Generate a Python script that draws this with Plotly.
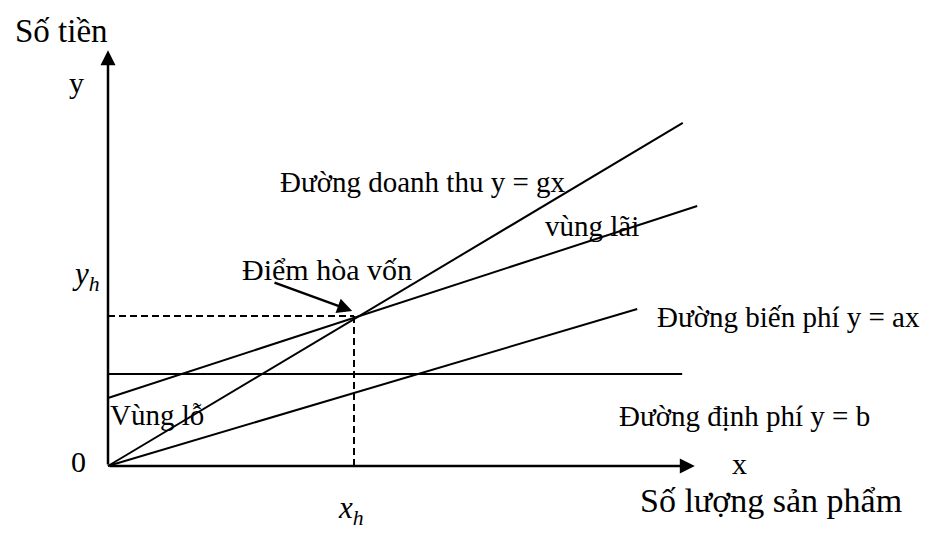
import plotly.graph_objects as go

# ---- data (schematic break-even chart, units of the drawing) ----
revenue_x = [0, 9.58]
revenue_y = [0, 8.17]
total_cost_x = [0, 9.82]
total_cost_y = [1.62, 6.19]
variable_cost_x = [0, 8.82]
variable_cost_y = [0, 3.74]
fixed_cost_x = [0, 9.57]
fixed_cost_y = [2.19, 2.19]
x_h = 4.1
y_h = 3.57
x_axis_end = 9.78
y_axis_end = 9.9

FONT = "Liberation Serif, Times New Roman, serif"
BLACK = "#000000"

fig = go.Figure()

line_style = dict(color=BLACK, width=2)
for xs, ys in [(revenue_x, revenue_y), (total_cost_x, total_cost_y),
               (variable_cost_x, variable_cost_y), (fixed_cost_x, fixed_cost_y)]:
    fig.add_trace(go.Scatter(x=xs, y=ys, mode="lines", line=line_style,
                             hoverinfo="skip", showlegend=False, cliponaxis=False))

# dashed guides to break-even point
dash_style = dict(color=BLACK, width=2, dash="7px,4px")
fig.add_trace(go.Scatter(x=[0, x_h], y=[y_h, y_h], mode="lines", line=dash_style,
                         hoverinfo="skip", showlegend=False, cliponaxis=False))
fig.add_trace(go.Scatter(x=[x_h, x_h], y=[y_h, 0], mode="lines", line=dash_style,
                         hoverinfo="skip", showlegend=False, cliponaxis=False))

annotations = []
# axes arrows
annotations.append(dict(x=0, y=y_axis_end, ax=0, ay=0, xref="x", yref="y", axref="x", ayref="y",
                        text="", showarrow=True, arrowhead=2, arrowsize=1.2, arrowwidth=2.5,
                        arrowcolor=BLACK))
annotations.append(dict(x=x_axis_end, y=0, ax=0, ay=0, xref="x", yref="y", axref="x", ayref="y",
                        text="", showarrow=True, arrowhead=2, arrowsize=1.2, arrowwidth=2.5,
                        arrowcolor=BLACK))
# break-even pointer
annotations.append(dict(x=4.07, y=3.69, ax=2.75, ay=4.38, xref="x", yref="y", axref="x", ayref="y",
                        text="", showarrow=True, arrowhead=2, arrowsize=1.2, arrowwidth=2.5,
                        arrowcolor=BLACK))

def label(text, x, y, size=29, xanchor="left"):
    annotations.append(dict(x=x, y=y, xref="x", yref="y", text=text, showarrow=False,
                            xanchor=xanchor, yanchor="middle",
                            font=dict(family=FONT, size=size, color=BLACK)))

label("Số tiền", -1.58, 10.36, size=33)
label("y", -0.52, 9.14, size=30, xanchor="center")
label("<i>y</i><sub><i>h</i></sub>", -0.1, 4.52, size=31, xanchor="right")
label("0", -0.5, 0.1, size=30, xanchor="center")
label("Vùng lỗ", 0.0, 1.21)
label("Điểm hòa vốn", 2.2, 4.67, size=30)
label("Đường doanh thu y = gx", 2.83, 6.76)
label("vùng lãi", 7.25, 5.71)
label("Đường biến phí y = ax", 9.12, 3.55)
label("Đường định phí y = b", 8.48, 1.19)
label("x", 10.53, 0.07, size=30, xanchor="center")
label("<i>x</i><sub><i>h</i></sub>", 4.05, -1.05, size=31, xanchor="center")
label("Số lượng sản phẩm", 8.83, -0.81, size=34)

# axes span the whole figure so that outer labels stay visible
fig.update_layout(
    width=932, height=536, autosize=False,
    margin=dict(l=0, r=0, t=0, b=0, pad=0),
    paper_bgcolor="white", plot_bgcolor="white",
    xaxis=dict(range=[-108 / 60, 824 / 60], visible=False, fixedrange=True),
    yaxis=dict(range=[-70 / 42, 466 / 42], visible=False, fixedrange=True),
    annotations=annotations,
    showlegend=False,
)

fig.write_html("out.html", config={"displayModeBar": False},
               post_script="document.body.style.margin='0';")
